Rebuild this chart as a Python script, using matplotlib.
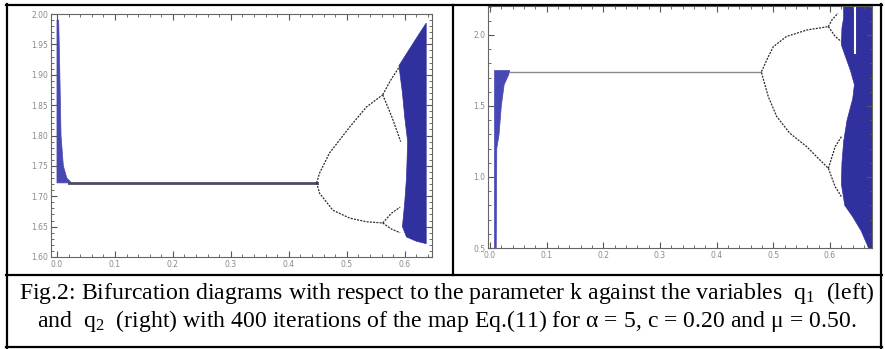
import matplotlib
matplotlib.use("Agg")
import matplotlib.pyplot as plt
from matplotlib.lines import Line2D
from matplotlib.ticker import MultipleLocator
import numpy as np

plt.rcParams['mathtext.fontset'] = 'custom'
plt.rcParams['mathtext.rm'] = 'Liberation Serif'
plt.rcParams['mathtext.it'] = 'Liberation Serif:italic'

# ---- left panel (q1) values ----
q1_fixed = 1.722
q1_fixed_k = [0.02, 0.448]
q1_trans_k = [0.0, 0.0, 0.003, 0.005, 0.007, 0.011, 0.017, 0.025]
q1_trans_q = [1.722, 1.99, 1.99, 1.90, 1.80, 1.75, 1.73, 1.722]
q1_up_k = [0.448, 0.453, 0.470, 0.505, 0.534, 0.562]
q1_up_q = [1.722, 1.738, 1.771, 1.814, 1.847, 1.867]
q1_up_a_k = [0.562, 0.575, 0.590]
q1_up_a_q = [1.867, 1.890, 1.912]
q1_up_b_k = [0.562, 0.578, 0.593]
q1_up_b_q = [1.867, 1.830, 1.790]
q1_lo_k = [0.448, 0.453, 0.476, 0.505, 0.534, 0.562]
q1_lo_q = [1.722, 1.705, 1.677, 1.664, 1.658, 1.656]
q1_lo_a_k = [0.562, 0.577, 0.592]
q1_lo_a_q = [1.656, 1.672, 1.682]
q1_lo_b_k = [0.562, 0.577, 0.592]
q1_lo_b_q = [1.656, 1.646, 1.640]
q1_chaos_k = [0.590, 0.600, 0.610, 0.620, 0.637, 0.637, 0.620, 0.603, 0.596,
              0.600, 0.603, 0.605, 0.600, 0.596, 0.592]
q1_chaos_q = [1.915, 1.930, 1.945, 1.960, 1.985, 1.622, 1.626, 1.633, 1.650,
              1.690, 1.730, 1.790, 1.830, 1.870, 1.900]

# ---- right panel (q2) values ----
q2_fixed = 1.74
q2_fixed_k = [0.035, 0.479]
q2_trans_k = [0.008, 0.008, 0.035, 0.033, 0.025, 0.020, 0.016, 0.012, 0.011]
q2_trans_q = [0.50, 1.75, 1.75, 1.72, 1.65, 1.50, 1.30, 1.20, 0.50]
q2_up_k = [0.479, 0.491, 0.500, 0.523, 0.559, 0.597]
q2_up_q = [1.742, 1.847, 1.918, 1.989, 2.035, 2.059]
q2_up_a_k = [0.597, 0.604, 0.614]
q2_up_a_q = [2.059, 2.110, 2.153]
q2_up_b_k = [0.597, 0.609, 0.620]
q2_up_b_q = [2.059, 1.990, 1.953]
q2_lo_k = [0.479, 0.491, 0.506, 0.529, 0.559, 0.582, 0.597]
q2_lo_q = [1.735, 1.566, 1.425, 1.308, 1.213, 1.120, 1.061]
q2_lo_a_k = [0.597, 0.609, 0.620]
q2_lo_a_q = [1.061, 1.213, 1.284]
q2_lo_b_k = [0.597, 0.609, 0.620]
q2_lo_b_q = [1.061, 0.932, 0.862]
q2_chaos_k = [0.624, 0.680, 0.680, 0.668, 0.655, 0.640, 0.626, 0.620, 0.621,
              0.624, 0.630, 0.640, 0.643, 0.636, 0.627, 0.620, 0.621, 0.624]
q2_chaos_q = [2.25, 2.25, 0.50, 0.50, 0.62, 0.72, 0.80, 0.95, 1.10,
              1.25, 1.40, 1.55, 1.65, 1.75, 1.85, 1.93, 2.05, 2.12]
q2_window_k = [0.644, 0.644]
q2_window_q = [1.87, 2.25]

left_xticks = [0.0, 0.1, 0.2, 0.3, 0.4, 0.5, 0.6]
left_xlabels = ["0.0", "0.1", "0.2", "0.3", "0.4", "0.5", "0.6"]
left_yticks = [1.60, 1.65, 1.70, 1.75, 1.80, 1.85, 1.90, 1.95, 2.00]
left_ylabels = ["1.60", "1.65", "1.70", "1.75", "1.80", "1.85", "1.90", "1.95", "2.00"]
right_yticks = [0.5, 1.0, 1.5, 2.0]
right_ylabels = ["0.5", "1.0", "1.5", "2.0"]

caption1 = r"Fig.2: Bifurcation diagrams with respect to the parameter k against the variables  $\mathrm{q}_1$  (left)"
caption2 = r"and  $\mathrm{q}_2$  (right) with 400 iterations of the map Eq.(11) for α = 5, c = 0.20 and μ = 0.50."

W, H = 885, 349
fig = plt.figure(figsize=(W / 100, H / 100), dpi=100)
fig.patch.set_facecolor("white")


def px_axes(x0, y0, x1, y1):
    return fig.add_axes([x0 / W, 1 - y1 / H, (x1 - x0) / W, (y1 - y0) / H])


chaos_col = "#30309e"
trans_col = "#4848b4"
branch_col = "#2a2a2a"
branch_ls = (0, (1.6, 1.0))


def style(ax, xt, xl, yt, yl, xminor, yminor):
    ax.set_xticks(xt)
    ax.set_xticklabels(xl)
    ax.set_yticks(yt)
    ax.set_yticklabels(yl)
    ax.xaxis.set_minor_locator(MultipleLocator(xminor))
    ax.yaxis.set_minor_locator(MultipleLocator(yminor))
    ax.tick_params(which="both", direction="in", top=True, right=True,
                   colors="#555555", labelcolor="#8a8a8a", labelsize=5.5, pad=2)
    ax.tick_params(which="major", length=4, width=0.8)
    ax.tick_params(which="minor", length=2, width=0.6)
    for s in ax.spines.values():
        s.set_color("#666666")
        s.set_linewidth(0.8)


# left panel
ax1 = px_axes(51, 14, 432, 257)
ax1.set_xlim(-0.0103, 0.647)
ax1.set_ylim(1.60, 2.00)
ax1.fill(q1_trans_k, q1_trans_q, color=trans_col, lw=0.5)
ax1.plot(q1_fixed_k, [q1_fixed, q1_fixed], color="#4a4a66", lw=2.0)
for k, q in [(q1_up_k, q1_up_q), (q1_up_a_k, q1_up_a_q), (q1_up_b_k, q1_up_b_q),
             (q1_lo_k, q1_lo_q), (q1_lo_a_k, q1_lo_a_q), (q1_lo_b_k, q1_lo_b_q)]:
    ax1.plot(k, q, color=branch_col, lw=0.9, ls=branch_ls)
ax1.fill(q1_chaos_k, q1_chaos_q, color=chaos_col, lw=0.5)
style(ax1, left_xticks, left_xlabels, left_yticks, left_ylabels, 0.02, 0.01)

# right panel
ax2 = px_axes(488, 6, 872, 248)
ax2.set_xlim(-0.0035, 0.674)
ax2.set_ylim(0.5, 2.204)
ax2.fill(q2_trans_k, q2_trans_q, color=trans_col, lw=0.5)
ax2.plot(q2_fixed_k, [q2_fixed, q2_fixed], color="#8a8a8a", lw=1.0)
for k, q in [(q2_up_k, q2_up_q), (q2_up_a_k, q2_up_a_q), (q2_up_b_k, q2_up_b_q),
             (q2_lo_k, q2_lo_q), (q2_lo_a_k, q2_lo_a_q), (q2_lo_b_k, q2_lo_b_q)]:
    ax2.plot(k, q, color=branch_col, lw=0.9, ls=branch_ls)
ax2.fill(q2_chaos_k, q2_chaos_q, color=chaos_col, lw=0.5)
ax2.plot(q2_window_k, q2_window_q, color="white", lw=1.5)
style(ax2, left_xticks, left_xlabels, right_yticks, right_ylabels, 0.02, 0.1)


# table borders
def hline(y, x0, x1):
    fig.add_artist(Line2D([x0 / W, x1 / W], [1 - y / H, 1 - y / H],
                          transform=fig.transFigure, color="black", lw=1.6))


def vline(x, y0, y1):
    fig.add_artist(Line2D([x / W, x / W], [1 - y0 / H, 1 - y1 / H],
                          transform=fig.transFigure, color="black", lw=1.6))


hline(5, 6, 882)
hline(275, 6, 882)
hline(347, 6, 882)
vline(7, 4, 348)
vline(881, 4, 348)
vline(453, 5, 275)

# caption
t1 = fig.text(447 / W, 1 - 299 / H, caption1, ha="center", va="baseline",
              family="Liberation Serif", fontsize=15)
t2 = fig.text(447 / W, 1 - 327 / H, caption2, ha="center", va="baseline",
              family="Liberation Serif", fontsize=15)
fig.canvas.draw()
r = fig.canvas.get_renderer()
scale = 856 / t1.get_window_extent(r).width
t1.set_fontsize(15 * scale)
t2.set_fontsize(15 * scale)

fig.savefig("out.png", dpi=100)
